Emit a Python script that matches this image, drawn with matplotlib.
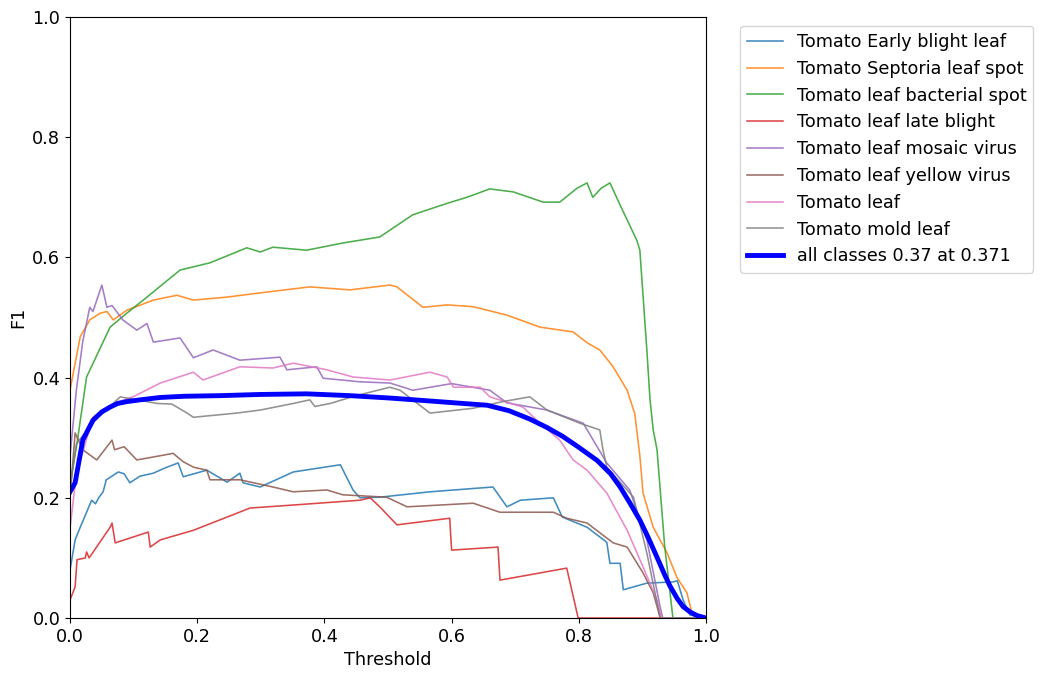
import matplotlib
matplotlib.use("Agg")
import matplotlib.pyplot as plt

# F1-confidence curve, values
names = [
    "Tomato Early blight leaf",
    "Tomato Septoria leaf spot",
    "Tomato leaf bacterial spot",
    "Tomato leaf late blight",
    "Tomato leaf mosaic virus",
    "Tomato leaf yellow virus",
    "Tomato leaf",
    "Tomato mold leaf",
]

early_x = [0.0, 0.008, 0.016, 0.034, 0.04, 0.045, 0.052, 0.057, 0.076, 0.085, 0.094, 0.11, 0.131, 0.15, 0.170,
           0.178, 0.215, 0.247, 0.267, 0.272, 0.299, 0.351, 0.425, 0.445, 0.456, 0.487, 0.566, 0.665, 0.687,
           0.708, 0.76, 0.774, 0.813, 0.844, 0.849, 0.865, 0.87, 0.907, 0.948, 0.955, 0.964, 0.975, 1.0]
early_y = [0.08, 0.13, 0.151, 0.196, 0.19, 0.20, 0.210, 0.23, 0.243, 0.24, 0.225, 0.236, 0.241, 0.25, 0.258,
           0.235, 0.246, 0.226, 0.241, 0.225, 0.218, 0.243, 0.255, 0.213, 0.200, 0.201, 0.210, 0.218, 0.185,
           0.196, 0.200, 0.168, 0.151, 0.126, 0.091, 0.091, 0.047, 0.058, 0.060, 0.062, 0.03, 0.005, 0.0]

septoria_x = [0.0, 0.008, 0.016, 0.031, 0.047, 0.058, 0.068, 0.089, 0.131, 0.168, 0.194, 0.247, 0.299, 0.377,
              0.44, 0.503, 0.514, 0.555, 0.593, 0.634, 0.687, 0.739, 0.791, 0.813, 0.833, 0.854, 0.876, 0.888,
              0.896, 0.901, 0.917, 0.939, 0.954, 0.970, 0.978, 1.0]
septoria_y = [0.38, 0.424, 0.468, 0.496, 0.507, 0.51, 0.496, 0.512, 0.529, 0.537, 0.529, 0.534, 0.541, 0.551,
              0.546, 0.554, 0.551, 0.517, 0.521, 0.518, 0.504, 0.484, 0.476, 0.458, 0.446, 0.418, 0.379, 0.34,
              0.27, 0.208, 0.151, 0.108, 0.068, 0.042, 0.008, 0.0]

bacterial_x = [0.0, 0.011, 0.026, 0.063, 0.089, 0.121, 0.173, 0.220, 0.278, 0.299, 0.319, 0.372, 0.429, 0.487,
               0.539, 0.593, 0.624, 0.660, 0.697, 0.744, 0.770, 0.797, 0.813, 0.822, 0.835, 0.849, 0.865,
               0.891, 0.896, 0.907, 0.912, 0.917, 0.923, 0.935, 0.948, 1.0]
bacterial_y = [0.22, 0.291, 0.401, 0.484, 0.507, 0.534, 0.579, 0.591, 0.616, 0.609, 0.617, 0.612, 0.624, 0.634,
               0.671, 0.690, 0.700, 0.714, 0.709, 0.692, 0.692, 0.715, 0.724, 0.700, 0.715, 0.724, 0.687,
               0.629, 0.612, 0.446, 0.363, 0.313, 0.28, 0.12, 0.0, 0.0]

late_x = [0.0, 0.008, 0.011, 0.024, 0.026, 0.03, 0.063, 0.066, 0.071, 0.123, 0.126, 0.142, 0.194, 0.247, 0.283,
          0.351, 0.456, 0.472, 0.487, 0.514, 0.597, 0.600, 0.673, 0.676, 0.781, 0.799, 1.0]
late_y = [0.03, 0.052, 0.097, 0.10, 0.11, 0.10, 0.151, 0.158, 0.125, 0.143, 0.118, 0.13, 0.146, 0.168, 0.183,
          0.188, 0.196, 0.20, 0.185, 0.155, 0.166, 0.113, 0.118, 0.063, 0.083, 0.0, 0.0]

mosaic_x = [0.0, 0.01, 0.02, 0.031, 0.036, 0.050, 0.058, 0.066, 0.083, 0.105, 0.121, 0.131, 0.173, 0.194, 0.225,
            0.267, 0.330, 0.341, 0.388, 0.398, 0.456, 0.503, 0.539, 0.60, 0.660, 0.687, 0.75, 0.807, 0.844,
            0.88, 0.907, 0.928, 0.932, 1.0]
mosaic_y = [0.27, 0.38, 0.46, 0.517, 0.51, 0.554, 0.517, 0.52, 0.496, 0.479, 0.490, 0.459, 0.466, 0.433, 0.446,
            0.429, 0.434, 0.413, 0.418, 0.399, 0.393, 0.391, 0.379, 0.39, 0.379, 0.358, 0.346, 0.324, 0.258,
            0.213, 0.130, 0.018, 0.0, 0.0]

yellow_x = [0.0, 0.008, 0.02, 0.042, 0.066, 0.07, 0.085, 0.105, 0.147, 0.162, 0.178, 0.194, 0.215, 0.22, 0.267,
            0.319, 0.351, 0.404, 0.429, 0.498, 0.53, 0.634, 0.676, 0.76, 0.781, 0.813, 0.854, 0.876, 0.901,
            0.917, 0.928, 1.0]
yellow_y = [0.2, 0.308, 0.28, 0.263, 0.296, 0.28, 0.285, 0.263, 0.271, 0.274, 0.26, 0.251, 0.246, 0.230, 0.230,
            0.218, 0.21, 0.213, 0.205, 0.201, 0.185, 0.191, 0.176, 0.176, 0.166, 0.158, 0.125, 0.118, 0.075,
            0.042, 0.0, 0.0]

leaf_x = [0.0, 0.01, 0.036, 0.068, 0.099, 0.142, 0.194, 0.209, 0.267, 0.319, 0.351, 0.404, 0.445, 0.503, 0.566,
          0.593, 0.603, 0.645, 0.660, 0.712, 0.739, 0.770, 0.791, 0.813, 0.844, 0.876, 0.901, 0.923, 0.93, 1.0]
leaf_y = [0.15, 0.24, 0.334, 0.357, 0.368, 0.391, 0.409, 0.396, 0.418, 0.416, 0.424, 0.413, 0.401, 0.396, 0.409,
          0.401, 0.384, 0.384, 0.368, 0.351, 0.324, 0.296, 0.263, 0.246, 0.208, 0.146, 0.085, 0.03, 0.0, 0.0]

mold_x = [0.0, 0.01, 0.04, 0.079, 0.137, 0.16, 0.184, 0.194, 0.262, 0.299, 0.351, 0.377, 0.385, 0.409, 0.45,
          0.503, 0.519, 0.566, 0.634, 0.68, 0.723, 0.75, 0.802, 0.833, 0.838, 0.844, 0.886, 0.907, 0.928, 1.0]
mold_y = [0.22, 0.29, 0.33, 0.368, 0.357, 0.356, 0.341, 0.334, 0.341, 0.346, 0.357, 0.363, 0.352, 0.357, 0.37,
          0.384, 0.379, 0.341, 0.349, 0.36, 0.368, 0.346, 0.324, 0.313, 0.280, 0.251, 0.201, 0.108, 0.0, 0.0]

all_x = [0.0, 0.008, 0.020, 0.036, 0.05, 0.063, 0.075, 0.089, 0.11, 0.142, 0.18, 0.236, 0.30, 0.372, 0.44,
         0.503, 0.58, 0.656, 0.69, 0.723, 0.75, 0.775, 0.80, 0.829, 0.85, 0.865, 0.88, 0.896, 0.91, 0.923,
         0.935, 0.943, 0.955, 0.964, 0.975, 0.986, 1.0]
all_y = [0.21, 0.225, 0.296, 0.329, 0.343, 0.351, 0.357, 0.36, 0.363, 0.367, 0.369, 0.37, 0.372, 0.373, 0.37,
         0.366, 0.36, 0.354, 0.345, 0.331, 0.317, 0.302, 0.284, 0.262, 0.24, 0.218, 0.192, 0.163, 0.132, 0.101,
         0.072, 0.054, 0.032, 0.019, 0.01, 0.004, 0.0]
all_label = "all classes 0.37 at 0.371"

class_x = [early_x, septoria_x, bacterial_x, late_x, mosaic_x, yellow_x, leaf_x, mold_x]
class_y = [early_y, septoria_y, bacterial_y, late_y, mosaic_y, yellow_y, leaf_y, mold_y]

plt.rcParams['font.size'] = 12.7

fig = plt.figure(figsize=(10.47, 6.81), dpi=100)
ax = fig.add_axes([0.0669, 0.0925, 0.6074, 0.8825])

for xs, ys, name in zip(class_x, class_y, names):
    ax.plot(xs, ys, linewidth=1.15, alpha=0.85, label=name)
ax.plot(all_x, all_y, linewidth=3.5, color='blue', label=all_label)

ax.set_xlabel("Threshold")
ax.set_ylabel("F1")
ax.set_xlim(0, 1)
ax.set_ylim(0, 1)
ax.legend(bbox_to_anchor=(1.04, 1), loc="upper left", labelspacing=0.5)

fig.savefig("out.png", dpi=100)
